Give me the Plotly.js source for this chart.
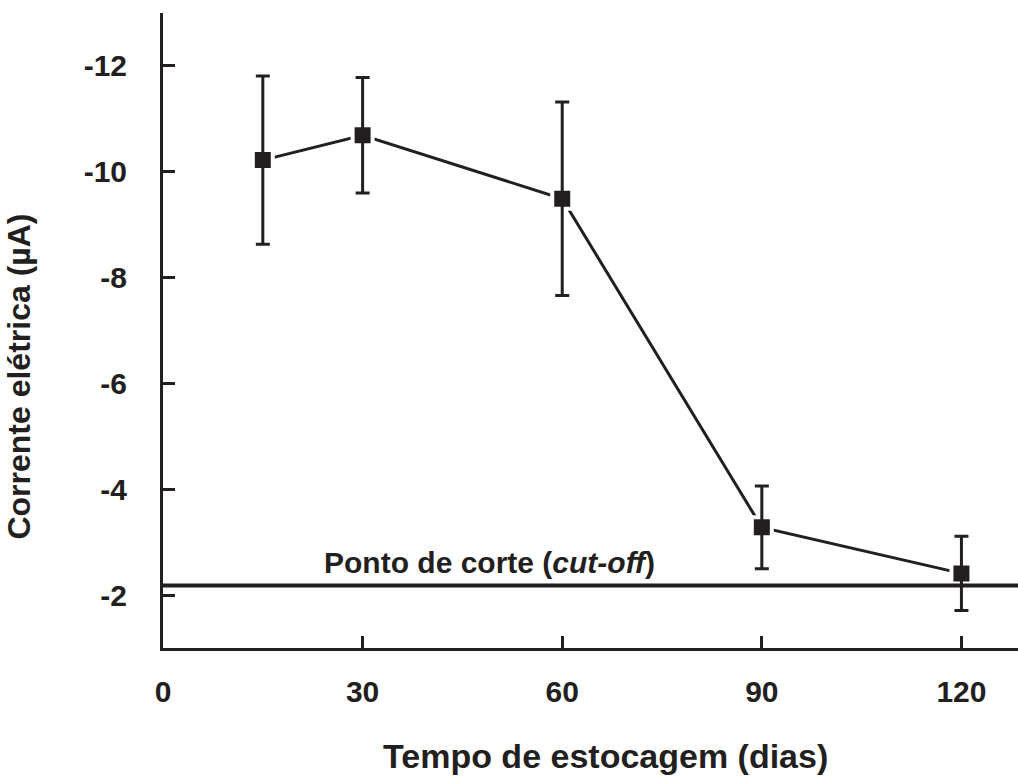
<!DOCTYPE html>
<html>
<head>
<meta charset="utf-8">
<script src="https://cdn.plot.ly/plotly-3.0.1.min.js"></script>
<style>
  html, body { margin: 0; padding: 0; background: #ffffff; }
  #chart { width: 1018px; height: 776px; }
</style>
</head>
<body>
<div id="chart"></div>
<script>
// ---- data ----
const days = [15, 30, 60, 90, 120];                       // Tempo de estocagem (dias)
const current = [-10.22, -10.69, -9.49, -3.28, -2.41];     // Corrente elétrica (µA)
const currentErr = [1.59, 1.09, 1.83, 0.78, 0.70];         // error bar half-length
const cutoff = -2.18;                                      // ponto de corte
const xTickVals = [0, 30, 60, 90, 120];
const xTickText = ['0', '30', '60', '90', '120'];
const yTickVals = [-12, -10, -8, -6, -4, -2];
const yTickText = ['-12', '-10', '-8', '-6', '-4', '-2'];
const xTitle = 'Tempo de estocagem (dias)';
const yTitle = 'Corrente elétrica (µA)';
const cutoffLabel = 'Ponto de corte (<i>cut-off</i>)';

const ink = '#231f20';
const fam = 'Liberation Sans, Arial, Helvetica, sans-serif';

const traces = [
  { // connecting line
    x: days, y: current, mode: 'lines', type: 'scatter',
    line: { color: ink, width: 3 }, hoverinfo: 'skip', showlegend: false
  },
  { // square markers with a thin white halo
    x: days, y: current, mode: 'markers', type: 'scatter',
    marker: { symbol: 'square', size: 20, color: ink, line: { color: '#ffffff', width: 4 } },
    showlegend: false
  },
  { // error bars drawn on top
    x: days, y: current, mode: 'markers', type: 'scatter',
    marker: { size: 1, color: 'rgba(0,0,0,0)' },
    error_y: { type: 'data', array: currentErr, visible: true, color: ink, thickness: 3, width: 7 },
    hoverinfo: 'skip', showlegend: false
  }
];

const layout = {
  width: 1018, height: 776,
  margin: { l: 163, r: 0, t: 13, b: 128 },
  paper_bgcolor: '#ffffff', plot_bgcolor: '#ffffff',
  font: { family: fam, color: ink, size: 28, weight: 'bold' },
  showlegend: false,
  xaxis: {
    range: [0, 128.5], showgrid: false, zeroline: false,
    showline: true, linecolor: ink, linewidth: 3,
    ticks: 'inside', ticklen: 12, tickwidth: 3, tickcolor: ink,
    tickvals: xTickVals, ticktext: xTickText,
    tickfont: { family: fam, size: 30, color: ink, weight: 'bold' },
    ticklabelstandoff: 15
  },
  yaxis: {
    range: [-1, -13], showgrid: false, zeroline: false,
    showline: true, linecolor: ink, linewidth: 3,
    ticks: 'inside', ticklen: 12, tickwidth: 3, tickcolor: ink,
    tickvals: yTickVals, ticktext: yTickText,
    tickfont: { family: fam, size: 30, color: ink, weight: 'bold' },
    ticklabelstandoff: 27
  },
  shapes: [
    { type: 'line', xref: 'paper', x0: 0, x1: 1, yref: 'y', y0: cutoff, y1: cutoff,
      line: { color: ink, width: 4 }, layer: 'above' }
  ],
  annotations: [
    { text: cutoffLabel, xref: 'x', x: 49.1, yref: 'y', y: cutoff, yanchor: 'bottom', xanchor: 'center',
      yshift: 5, showarrow: false, font: { family: fam, size: 30, color: ink, weight: 'bold' } },
    { text: xTitle, xref: 'paper', x: 0.517, yref: 'paper', y: -0.17, xanchor: 'center', yanchor: 'middle',
      showarrow: false, font: { family: fam, size: 34, color: ink, weight: 'bold' } },
    { text: yTitle, xref: 'paper', x: -0.168, yref: 'paper', y: 0.428, xanchor: 'center', yanchor: 'middle',
      textangle: -90, showarrow: false, font: { family: fam, size: 32, color: ink, weight: 'bold' } }
  ]
};

Plotly.newPlot('chart', traces, layout, { staticPlot: true, displayModeBar: false });
</script>
</body>
</html>
